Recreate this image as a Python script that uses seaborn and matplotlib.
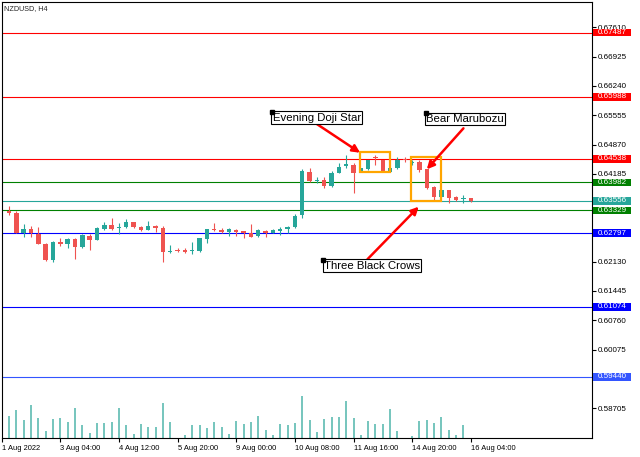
import numpy as np
import seaborn as sns
import matplotlib
matplotlib.use("Agg")
import matplotlib.pyplot as plt
from matplotlib.patches import Rectangle
import matplotlib.transforms as mtransforms

# H4 candles, NZDUSD
opens = [0.63327, 0.63268, 0.62812, 0.62906, 0.62789, 0.62550, 0.62169, 0.62590, 0.62536, 0.62653,
         0.62466, 0.62737, 0.62644, 0.62894, 0.62988, 0.62910, 0.62934, 0.63051, 0.62948, 0.62878,
         0.62971, 0.62924, 0.62368, 0.62410, 0.62410, 0.62373, 0.62387, 0.62653, 0.62901, 0.62878,
         0.62817, 0.62864, 0.62840, 0.62808, 0.62723, 0.62847, 0.62808, 0.62847, 0.62894, 0.62941,
         0.63221, 0.64234, 0.64023, 0.64040, 0.63899, 0.64210, 0.64367, 0.64390, 0.64234, 0.64290,
         0.64578, 0.64507, 0.64234, 0.64313, 0.64524, 0.64430, 0.64468, 0.64290, 0.63883, 0.63649,
         0.63806, 0.63635, 0.63589, 0.63612]
highs = [0.63432, 0.63315, 0.63011, 0.62964, 0.62941, 0.62567, 0.62614, 0.62691, 0.62691, 0.62684,
         0.62777, 0.62777, 0.62941, 0.63051, 0.63144, 0.63034, 0.63128, 0.63058, 0.62964, 0.63081,
         0.62988, 0.62971, 0.62520, 0.62443, 0.62443, 0.62597, 0.62695, 0.62906, 0.63027, 0.62910,
         0.62924, 0.62887, 0.62847, 0.63011, 0.62894, 0.62871, 0.62901, 0.62941, 0.62964, 0.63238,
         0.64290, 0.64327, 0.64103, 0.64103, 0.64257, 0.64430, 0.64617, 0.64430, 0.64320, 0.64519,
         0.64636, 0.64519, 0.64344, 0.64571, 0.64571, 0.64519, 0.64507, 0.64297, 0.63899, 0.63829,
         0.63818, 0.63666, 0.63689, 0.63619]
lows = [0.63221, 0.62795, 0.62707, 0.62707, 0.62543, 0.62146, 0.62123, 0.62504, 0.62443, 0.62186,
        0.62450, 0.62410, 0.62637, 0.62871, 0.62871, 0.62777, 0.62917, 0.62910, 0.62847, 0.62871,
        0.62831, 0.62130, 0.62340, 0.62363, 0.62340, 0.62303, 0.62349, 0.62560, 0.62847, 0.62808,
        0.62730, 0.62730, 0.62691, 0.62707, 0.62707, 0.62707, 0.62801, 0.62754, 0.62808, 0.62910,
        0.63144, 0.64005, 0.63963, 0.63846, 0.63876, 0.64196, 0.64313, 0.63743, 0.64227, 0.64274,
        0.64390, 0.64227, 0.64227, 0.64297, 0.64468, 0.64390, 0.64234, 0.63841, 0.63572, 0.63642,
        0.63509, 0.63556, 0.63495, 0.63537]
closes = [0.63268, 0.62801, 0.62906, 0.62812, 0.62550, 0.62162, 0.62590, 0.62536, 0.62653, 0.62466,
          0.62747, 0.62644, 0.62910, 0.62988, 0.62894, 0.62934, 0.63051, 0.62934, 0.62878, 0.62971,
          0.62924, 0.62349, 0.62387, 0.62380, 0.62363, 0.62396, 0.62677, 0.62887, 0.62864, 0.62817,
          0.62894, 0.62824, 0.62801, 0.62714, 0.62864, 0.62801, 0.62864, 0.62901, 0.62948, 0.63205,
          0.64262, 0.64016, 0.64040, 0.63899, 0.64196, 0.64351, 0.64407, 0.64210, 0.64313, 0.64507,
          0.64559, 0.64234, 0.64327, 0.64507, 0.64500, 0.64468, 0.64274, 0.63846, 0.63649, 0.63806,
          0.63612, 0.63572, 0.63612, 0.63556]
volumes = [6800, 8500, 5500, 10000, 6000, 2100, 5700, 6200, 4900, 9000,
           4000, 1600, 4600, 4600, 4900, 9000, 4100, 1300, 4300, 3400,
           3400, 10500, 4900, 200, 1000, 4000, 4000, 3200, 4900, 3400,
           1300, 5200, 4400, 4900, 6800, 2600, 1000, 4300, 4100, 4600,
           12800, 5500, 1900, 5700, 6500, 6500, 11200, 6000, 1100, 5200,
           4400, 4400, 8800, 2200, 200, 800, 5200, 5500, 4600, 6500,
           2400, 1000, 4100, 200]

date_ticks = [-1, 7, 15, 23, 31, 39, 47, 55, 63]
date_labels = ['1 Aug 2022', '3 Aug 04:00', '4 Aug 12:00', '5 Aug 20:00', '9 Aug 00:00',
               '10 Aug 08:00', '11 Aug 16:00', '14 Aug 20:00', '16 Aug 04:00']
price_ticks = [0.67610, 0.66925, 0.66240, 0.65555, 0.64870, 0.64185,
               0.62130, 0.61445, 0.60760, 0.60075, 0.58705]

level_values = [0.67487, 0.65988, 0.64538, 0.63982, 0.63556, 0.63329, 0.62797, 0.61074, 0.59440]
level_colors = ['#ff0000', '#ff0000', '#ff0000', '#008000', '#26a69a', '#008000',
                '#0000ff', '#0000ff', '#3355ff']

up_col, down_col = '#26a69a', '#ef5350'

sns.set_theme(style='white')
plt.rcParams['font.family'] = ['Liberation Sans', 'DejaVu Sans']

fig = plt.figure(figsize=(6.4, 4.57), dpi=100)
rect = [1.7 / 640, (457 - 438.3) / 457, 590 / 640, (438.3 - 1.7) / 457]
xlim = (-1, 79.5)

# volume in the lower part of the main window
axv = fig.add_axes(rect)
axv.axis('off')
idx = np.arange(len(closes))
axv.vlines(idx, 0, volumes, colors='#4fb5ab', lw=1.1)
axv.set_xlim(*xlim)
axv.set_ylim(0, 131000)

ax = fig.add_axes(rect)
ax.patch.set_alpha(0)
ax.set_xlim(*xlim)
ax.set_ylim(0.5800, 0.6821)

df_o, df_c = np.array(opens), np.array(closes)
cols = np.where(df_c >= df_o, up_col, down_col)
ax.vlines(idx, lows, highs, colors=cols, lw=0.8, zorder=3)
body = np.maximum(np.abs(df_c - df_o), 0.00012)
ax.bar(idx, body, bottom=np.minimum(df_o, df_c), width=0.6, color=cols, lw=0, zorder=4)

for v, c in zip(level_values, level_colors):
    ax.axhline(v, color=c, lw=0.8, zorder=2)

# price labels on the right edge
blend = mtransforms.blended_transform_factory(ax.transAxes, ax.transData)
for v, c in zip(level_values, level_colors):
    ax.add_patch(Rectangle((1.0027, v - 0.0009), 0.0635, 0.0018, transform=blend,
                           fc=c, ec='none', clip_on=False, zorder=10))
    ax.text(1.0027 + 0.0635 / 2, v, f'{v:.5f}', transform=blend, ha='center', va='center',
            color='white', fontsize=5.8, clip_on=False, zorder=11)

ax.yaxis.tick_right()
ax.set_yticks(price_ticks)
ax.set_yticklabels([f'{p:.5f}' for p in price_ticks])
ax.tick_params(axis='y', which='both', right=True, length=3, width=0.8, pad=1.5,
               labelsize=5.8, colors='black')
ax.set_xticks(date_ticks)
ax.set_xticklabels(date_labels, ha='left')
ax.tick_params(axis='x', bottom=True, length=3, width=0.8, pad=1.5, labelsize=5.4, colors='black')
for s in ax.spines.values():
    s.set_color('black')
    s.set_linewidth(0.8)

ax.text(0.004, 0.993, 'NZDUSD, H4', transform=ax.transAxes, ha='left', va='top', fontsize=5.2)

# pattern boxes
for x0, x1, p0, p1 in [(47.9, 52.0, 0.64220, 0.64694), (54.8, 58.9, 0.63549, 0.64570)]:
    ax.add_patch(Rectangle((x0, p0), x1 - x0, p1 - p0, fill=False, ec='#ffa500', lw=1.6, zorder=6))

# pattern annotations
notes = [('Evening Doji Star', (35.9, 0.65637), (41.8, 0.65372), (47.9, 0.64678)),
         ('Bear Marubozu', (56.9, 0.65599), (62.0, 0.65249), (57.0, 0.64290)),
         ('Three Black Crows', (42.9, 0.62176), (48.9, 0.62186), (55.9, 0.63416))]
for label, anchor, tail, head in notes:
    ax.annotate('', xy=head, xytext=tail, zorder=7,
                arrowprops=dict(arrowstyle='-|>', color='red', lw=1.8, mutation_scale=11,
                                shrinkA=0, shrinkB=0))
    ax.text(anchor[0] + 0.05, anchor[1] - 0.0002, label, ha='left', va='top', fontsize=8.2,
            color='black', zorder=8,
            bbox=dict(boxstyle='square,pad=0.1', fc='white', ec='black', lw=0.8))
    ax.plot(*anchor, marker='s', color='black', ms=2.2, zorder=9)

fig.savefig('out.png', dpi=100)
